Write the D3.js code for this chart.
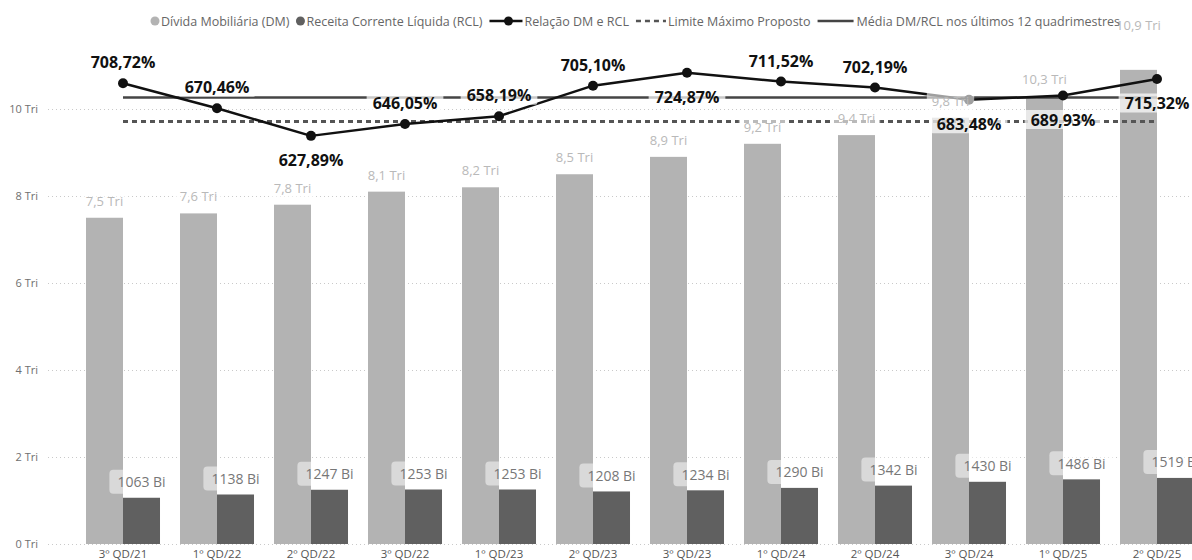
<!DOCTYPE html>
<html>
<head>
<meta charset="utf-8">
<script src="https://cdn.jsdelivr.net/npm/d3@7"></script>
<style>
  html, body { margin: 0; padding: 0; background: #fff; }
  svg { display: block; font-family: "Open Sans", "Noto Sans", sans-serif; }
</style>
</head>
<body>
<svg id="chart" width="1192" height="560"></svg>
<script>
// ---- Data ----
const categories = ["3º QD/21", "1º QD/22", "2º QD/22", "3º QD/22", "1º QD/23", "2º QD/23",
                    "3º QD/23", "1º QD/24", "2º QD/24", "3º QD/24", "1º QD/25", "2º QD/25"];
const dividaTri = [7.5, 7.6, 7.8, 8.1, 8.2, 8.5, 8.9, 9.2, 9.4, 9.8, 10.3, 10.9];
const rclBi = [1063, 1138, 1247, 1253, 1253, 1208, 1234, 1290, 1342, 1430, 1486, 1519];
const relacaoPct = [708.72, 670.46, 627.89, 646.05, 658.19, 705.10, 724.87, 711.52, 702.19, 683.48, 689.93, 715.32];
const limitePct = 650;
const yTicksTri = [0, 2, 4, 6, 8, 10];

// Average ratio over the twelve four-month periods
const mediaPct = d3.mean(relacaoPct);

// ---- Label placement for the ratio series and the debt bars ----
const pctLabelSide = ["above", "above", "below", "above", "above", "above",
                      "below", "above", "above", "below", "below", "below"];
const dmLabelLift = [0, 0, 0, 0, 0, 0, 0, 0, 0, 0, 0, 28];

// ---- Colours ----
const C = {
  dm: "#b3b3b3",
  rcl: "#606060",
  line: "#111111",
  media: "#454545",
  limite: "#555555",
  grid: "#c9c9c9",
  axisText: "#6f6f6f",
  legendText: "#666666",
  dmText: "#b9b9b9",
  rclText: "#777777"
};

const W = 1192, H = 560;
const svg = d3.select("#chart");

const ptBR = d3.formatLocale({ decimal: ",", thousands: ".", grouping: [3], currency: ["R$", ""] });
const fmtPct = ptBR.format(".2f");
const fmtTri = ptBR.format(".1f");

// ---- Scales ----
const x = d3.scaleBand().domain(categories).range([76, 1204]).padding(0);
const xSub = d3.scaleBand().domain(["dm", "rcl"]).range([0, x.bandwidth()])
  .paddingInner(0).paddingOuter(0.27);
const y = d3.scaleLinear().domain([0, 12]).range([544, 22]);
const y2 = d3.scaleLinear().domain([0, 800]).range([544, 24]);
const cx = c => x(c) + x.bandwidth() / 2;

// ---- Y axis with dotted gridlines ----
const yAxis = svg.append("g")
  .attr("transform", "translate(48,0)")
  .call(d3.axisLeft(y).tickValues(yTicksTri).tickSize(-(W - 48)).tickPadding(10)
    .tickFormat(d => d + " Tri"));
yAxis.select(".domain").remove();
yAxis.selectAll(".tick line")
  .attr("stroke", C.grid).attr("stroke-width", 1).attr("stroke-dasharray", "1,3");
yAxis.selectAll(".tick text")
  .attr("fill", C.axisText).style("font-size", "11px")
  .style("font-family", "'Open Sans', sans-serif");

// ---- X axis ----
const xAxis = svg.append("g")
  .attr("transform", "translate(0,544)")
  .call(d3.axisBottom(x).tickSize(0).tickPadding(6));
xAxis.select(".domain").remove();
xAxis.selectAll(".tick text")
  .attr("fill", "#555").style("font-size", "11.5px")
  .style("font-family", "'Open Sans', sans-serif");

// ---- Bars ----
const groups = svg.append("g").selectAll("g")
  .data(categories).join("g")
  .attr("transform", c => `translate(${x(c)},0)`);

groups.append("rect")
  .attr("x", xSub("dm")).attr("width", xSub.bandwidth())
  .attr("y", (c, i) => y(dividaTri[i]))
  .attr("height", (c, i) => y(0) - y(dividaTri[i]))
  .attr("fill", C.dm);

groups.append("rect")
  .attr("x", xSub("rcl")).attr("width", xSub.bandwidth())
  .attr("y", (c, i) => y(rclBi[i] / 1000))
  .attr("height", (c, i) => y(0) - y(rclBi[i] / 1000))
  .attr("fill", C.rcl);

// ---- Reference lines ----
const xFirst = cx(categories[0]), xLast = cx(categories[categories.length - 1]);

svg.append("line")
  .attr("x1", xFirst).attr("x2", xLast)
  .attr("y1", y2(limitePct)).attr("y2", y2(limitePct))
  .attr("stroke", C.limite).attr("stroke-width", 3).attr("stroke-dasharray", "5,4");

svg.append("line")
  .attr("x1", xFirst).attr("x2", xLast)
  .attr("y1", y2(mediaPct)).attr("y2", y2(mediaPct))
  .attr("stroke", C.media).attr("stroke-width", 2.5);

// ---- Ratio line ----
const line = d3.line()
  .x((d, i) => cx(categories[i]))
  .y(d => y2(d));

svg.append("path")
  .datum(relacaoPct)
  .attr("d", line)
  .attr("fill", "none").attr("stroke", C.line).attr("stroke-width", 2.5)
  .attr("stroke-linejoin", "round");

svg.append("g").selectAll("circle")
  .data(relacaoPct).join("circle")
  .attr("cx", (d, i) => cx(categories[i]))
  .attr("cy", d => y2(d))
  .attr("r", 5)
  .attr("fill", C.line);

// ---- Labels with translucent backgrounds ----
function boxedLabel(parent, tx, ty, text, opts) {
  const g = parent.append("g");
  const rect = g.append("rect");
  const t = g.append("text")
    .attr("x", tx).attr("y", ty)
    .attr("text-anchor", "middle").attr("dominant-baseline", "central")
    .attr("fill", opts.color)
    .style("font-size", opts.size + "px")
    .style("font-weight", opts.weight || 400)
    .text(text);
  const b = t.node().getBBox();
  rect.attr("x", b.x - opts.padX).attr("y", ty - opts.h / 2)
    .attr("width", b.width + 2 * opts.padX).attr("height", opts.h)
    .attr("rx", opts.rx || 0)
    .attr("fill", "#fff").attr("fill-opacity", opts.opacity);
  return g;
}

const labelLayer = svg.append("g");

// Debt (DM) values above the light bars
dividaTri.forEach((v, i) => {
  const c = categories[i];
  const lx = x(c) + xSub("dm") + xSub.bandwidth() / 2;
  const ly = y(v) - 17 - dmLabelLift[i];
  boxedLabel(labelLayer, lx, ly, fmtTri(v) + " Tri",
    { color: C.dmText, size: 13, padX: 5, h: 20, rx: 3, opacity: 0.6 });
});

// Revenue (RCL) values above the dark bars
rclBi.forEach((v, i) => {
  const c = categories[i];
  const lx = x(c) + xSub("rcl") + xSub.bandwidth() / 2;
  const ly = y(v / 1000) - 16;
  boxedLabel(labelLayer, lx, ly, v + " Bi",
    { color: C.rclText, size: 14, padX: 8, h: 24, rx: 4, opacity: 0.5 });
});

// Ratio percentages
relacaoPct.forEach((v, i) => {
  const lx = cx(categories[i]);
  const ly = y2(v) + (pctLabelSide[i] === "above" ? -21 : 24);
  boxedLabel(labelLayer, lx, ly, fmtPct(v) + "%",
    { color: "#111", size: 16, weight: 700, padX: 6, h: 19, rx: 2, opacity: 0.7 });
});

// ---- Legend ----
const legendItems = [
  { label: "Dívida Mobiliária (DM)", sym: "dot", color: C.dm },
  { label: "Receita Corrente Líquida (RCL)", sym: "dot", color: C.rcl },
  { label: "Relação DM e RCL", sym: "lineDot" },
  { label: "Limite Máximo Proposto", sym: "dash" },
  { label: "Média DM/RCL nos últimos 12 quadrimestres", sym: "line" }
];
const symW = { dot: 10, lineDot: 35, dash: 32, line: 39 };
const legendY = 21;
const legend = svg.append("g");
let cursor = 0;
legendItems.forEach((it, k) => {
  const g = legend.append("g").attr("transform", `translate(${cursor},0)`);
  if (it.sym === "dot") {
    g.append("circle").attr("cx", 4).attr("cy", legendY).attr("r", 4.5).attr("fill", it.color);
  } else if (it.sym === "lineDot") {
    g.append("line").attr("x1", 0).attr("x2", 33).attr("y1", legendY).attr("y2", legendY)
      .attr("stroke", C.line).attr("stroke-width", 2.5);
    g.append("circle").attr("cx", 19).attr("cy", legendY).attr("r", 4.5).attr("fill", C.line);
  } else if (it.sym === "dash") {
    g.append("line").attr("x1", 0).attr("x2", 30).attr("y1", legendY).attr("y2", legendY)
      .attr("stroke", C.limite).attr("stroke-width", 2.5).attr("stroke-dasharray", "5,4");
  } else {
    g.append("line").attr("x1", 0).attr("x2", 36).attr("y1", legendY).attr("y2", legendY)
      .attr("stroke", C.media).attr("stroke-width", 2.5);
  }
  const t = g.append("text")
    .attr("x", symW[it.sym]).attr("y", legendY)
    .attr("dominant-baseline", "central")
    .attr("fill", C.legendText)
    .style("font-size", "12.5px")
    .text(it.label);
  cursor += symW[it.sym] + t.node().getComputedTextLength() + (k < legendItems.length - 1 ? 7 : 0);
});
legend.attr("transform", `translate(${(148 + 1123) / 2 - cursor / 2},0)`);
</script>
</body>
</html>
